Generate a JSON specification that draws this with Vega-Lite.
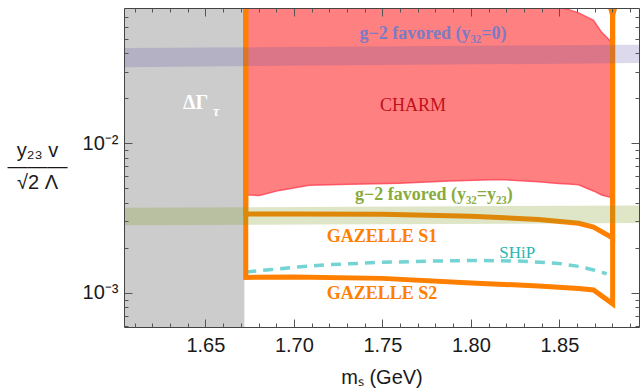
{
  "$schema": "https://vega.github.io/schema/vega-lite/v6.json",
  "width": 515,
  "height": 319,
  "autosize": {"type": "none"},
  "padding": {"left": 124, "top": 8, "right": 1, "bottom": 65},
  "background": "white",
  "config": {
    "view": {"stroke": null},
    "axis": {
      "grid": false, "zindex": 1, "domainColor": "#444", "tickColor": "#555",
      "labelFont": "Liberation Sans", "labelFontSize": 20, "labelColor": "#1a1a1a",
      "titleFont": "Liberation Sans", "titleFontSize": 20, "titleFontWeight": "normal", "titleColor": "#1a1a1a",
      "labelFlush": false, "labelOverlap": false
    }
  },
  "resolve": {"axis": {"x": "independent", "y": "independent"}},
  "datasets": {
    "gray": [{"x0": 1.604, "x1": 1.672}],
    "charm": [
      {"x": 1.6720, "lo": 0.00454, "hi": 0.12},
      {"x": 1.6748, "lo": 0.00450, "hi": 0.12},
      {"x": 1.6804, "lo": 0.00447, "hi": 0.12},
      {"x": 1.6917, "lo": 0.00483, "hi": 0.12},
      {"x": 1.7086, "lo": 0.00522, "hi": 0.12},
      {"x": 1.7312, "lo": 0.00530, "hi": 0.12},
      {"x": 1.7594, "lo": 0.00540, "hi": 0.12},
      {"x": 1.7876, "lo": 0.00559, "hi": 0.12},
      {"x": 1.8158, "lo": 0.00572, "hi": 0.12},
      {"x": 1.8383, "lo": 0.00552, "hi": 0.12},
      {"x": 1.8496, "lo": 0.00538, "hi": 0.081},
      {"x": 1.8553, "lo": 0.00532, "hi": 0.078},
      {"x": 1.8609, "lo": 0.00526, "hi": 0.0742},
      {"x": 1.8693, "lo": 0.00479, "hi": 0.0661},
      {"x": 1.8739, "lo": 0.00450, "hi": 0.0550},
      {"x": 1.8795, "lo": 0.00432, "hi": 0.0471}
    ],
    "purple": [
      {"x": 1.604, "lo": 0.0322, "hi": 0.04315},
      {"x": 1.895, "lo": 0.03425, "hi": 0.04548}
    ],
    "green": [
      {"x": 1.604, "lo": 0.00282, "hi": 0.0037},
      {"x": 1.895, "lo": 0.00292, "hi": 0.00383}
    ],
    "s1": [
      {"i": 0, "x": 1.6728, "y": 0.12},
      {"i": 1, "x": 1.6728, "y": 0.00336},
      {"i": 2, "x": 1.70, "y": 0.00336},
      {"i": 3, "x": 1.75, "y": 0.00334},
      {"i": 4, "x": 1.80, "y": 0.00324},
      {"i": 5, "x": 1.8383, "y": 0.00309},
      {"i": 6, "x": 1.8609, "y": 0.00291},
      {"i": 7, "x": 1.8693, "y": 0.00275},
      {"i": 8, "x": 1.8801, "y": 0.00232},
      {"i": 9, "x": 1.8801, "y": 0.0714},
      {"i": 10, "x": 1.8778, "y": 0.09}
    ],
    "s2": [
      {"i": 0, "x": 1.6728, "y": 0.12},
      {"i": 1, "x": 1.6728, "y": 0.001266},
      {"i": 2, "x": 1.70, "y": 0.001276},
      {"i": 3, "x": 1.75, "y": 0.001247},
      {"i": 4, "x": 1.80, "y": 0.001163},
      {"i": 5, "x": 1.8383, "y": 0.00111},
      {"i": 6, "x": 1.8609, "y": 0.001068},
      {"i": 7, "x": 1.8693, "y": 0.001044},
      {"i": 8, "x": 1.8801, "y": 0.000842},
      {"i": 9, "x": 1.8801, "y": 0.0714},
      {"i": 10, "x": 1.8824, "y": 0.09}
    ],
    "ship": [
      {"x": 1.6731, "y": 0.001377},
      {"x": 1.6861, "y": 0.001424},
      {"x": 1.7013, "y": 0.001483},
      {"x": 1.7199, "y": 0.001539},
      {"x": 1.7481, "y": 0.001594},
      {"x": 1.7763, "y": 0.001627},
      {"x": 1.8045, "y": 0.001645},
      {"x": 1.8271, "y": 0.001627},
      {"x": 1.8496, "y": 0.00157},
      {"x": 1.8609, "y": 0.0015},
      {"x": 1.8693, "y": 0.00142},
      {"x": 1.8767, "y": 0.00134}
    ],
    "labels": [
      {"key": "dg", "text": "ΔΓ", "x": 1.6445, "y": 0.01698},
      {"key": "tau", "text": "τ", "x": 1.656, "y": 0.01508},
      {"key": "g2a", "text": "g−2 favored (y₃₂=0)", "x": 1.7786, "y": 0.0493},
      {"key": "charm", "text": "CHARM", "x": 1.7673, "y": 0.0163},
      {"key": "g2b", "text": "g−2 favored (y₃₂=y₂₃)", "x": 1.7791, "y": 0.00414},
      {"key": "gz", "text": "GAZELLE S1", "x": 1.7498, "y": 0.00218},
      {"key": "gz", "text": "GAZELLE S2", "x": 1.7498, "y": 0.000902},
      {"key": "ship", "text": "SHiP", "x": 1.8262, "y": 0.0017}
    ]
  },
  "layer": [
    {
      "data": {"name": "gray"},
      "mark": {"type": "rect", "color": "#cccccc", "clip": true},
      "encoding": {
        "x": {"field": "x0", "type": "quantitative",
          "scale": {"domain": [1.604, 1.895], "nice": false, "zero": false},
          "axis": {"orient": "bottom", "zindex": 2, "values": [1.65, 1.7, 1.75, 1.8, 1.85], "format": ".2f",
            "tickSize": -8, "labelPadding": 16, "domain": true, "title": "mₛ (GeV)", "titlePadding": 12}},
        "x2": {"field": "x1"}
      }
    },
    {
      "data": {"name": "charm"},
      "mark": {"type": "area", "color": "#ff8080", "opacity": 1, "stroke": "#ff3d50", "strokeWidth": 1.5, "strokeOpacity": 0.8, "clip": true},
      "encoding": {
        "x": {"field": "x", "type": "quantitative",
          "scale": {"domain": [1.604, 1.895], "nice": false, "zero": false},
          "axis": {"orient": "bottom", "zindex": 2, "values": [1.61,1.62,1.63,1.64,1.66,1.67,1.68,1.69,1.71,1.72,1.73,1.74,1.76,1.77,1.78,1.79,1.81,1.82,1.83,1.84,1.86,1.87,1.88,1.89],
            "tickSize": -4, "labels": false, "domain": false, "title": null}},
        "y": {"field": "lo", "type": "quantitative",
          "scale": {"type": "log", "domain": [0.00059, 0.08], "nice": false},
          "axis": {"orient": "left", "zindex": 2, "values": [0.001, 0.01], "labelExpr": "datum.value < 0.005 ? '10⁻³' : '10⁻²'",
            "tickSize": -8, "labelPadding": 14, "domain": true,
            "title": ["y₂₃ v", "———", "√2 Λ"], "titleAngle": 0, "titleAlign": "center", "titleBaseline": "middle",
            "titleX": -87, "titleY": 142, "titleLineHeight": 16}},
        "y2": {"field": "hi"}
      }
    },
    {
      "data": {"name": "ship"},
      "mark": {"type": "line", "color": "#74d3d3", "strokeWidth": 3.5, "strokeDash": [10, 7], "clip": true},
      "encoding": {
        "x": {"field": "x", "type": "quantitative",
          "scale": {"domain": [1.604, 1.895], "nice": false, "zero": false},
          "axis": {"orient": "top", "zindex": 2, "values": [1.65, 1.7, 1.75, 1.8, 1.85], "tickSize": -8, "labels": false, "domain": true, "title": null}},
        "y": {"field": "y", "type": "quantitative",
          "scale": {"type": "log", "domain": [0.00059, 0.08], "nice": false},
          "axis": {"orient": "left", "zindex": 2, "values": [0.0006,0.0007,0.0008,0.0009,0.002,0.003,0.004,0.005,0.006,0.007,0.008,0.009,0.02,0.03,0.04,0.05,0.06,0.07],
            "tickSize": -4, "labels": false, "domain": false, "title": null}}
      }
    },
    {
      "data": {"name": "s1"},
      "mark": {"type": "line", "color": "#ff8000", "strokeWidth": 5, "strokeJoin": "miter", "clip": true},
      "encoding": {
        "x": {"field": "x", "type": "quantitative",
          "scale": {"domain": [1.604, 1.895], "nice": false, "zero": false},
          "axis": {"orient": "top", "zindex": 2, "values": [1.61,1.62,1.63,1.64,1.66,1.67,1.68,1.69,1.71,1.72,1.73,1.74,1.76,1.77,1.78,1.79,1.81,1.82,1.83,1.84,1.86,1.87,1.88,1.89],
            "tickSize": -4, "labels": false, "domain": false, "title": null}},
        "y": {"field": "y", "type": "quantitative",
          "scale": {"type": "log", "domain": [0.00059, 0.08], "nice": false},
          "axis": {"orient": "right", "zindex": 2, "values": [0.001, 0.01], "tickSize": -8, "labels": false, "domain": true, "title": null}},
        "order": {"field": "i"}
      }
    },
    {
      "data": {"name": "s2"},
      "mark": {"type": "line", "color": "#ff8000", "strokeWidth": 5, "strokeJoin": "miter", "clip": true},
      "encoding": {
        "x": {"field": "x", "type": "quantitative",
          "scale": {"domain": [1.604, 1.895], "nice": false, "zero": false}, "axis": null},
        "y": {"field": "y", "type": "quantitative",
          "scale": {"type": "log", "domain": [0.00059, 0.08], "nice": false},
          "axis": {"orient": "right", "zindex": 2, "values": [0.0006,0.0007,0.0008,0.0009,0.002,0.003,0.004,0.005,0.006,0.007,0.008,0.009,0.02,0.03,0.04,0.05,0.06,0.07],
            "tickSize": -4, "labels": false, "domain": false, "title": null}},
        "order": {"field": "i"}
      }
    },
    {
      "data": {"name": "purple"},
      "mark": {"type": "area", "color": "#5c53a2", "opacity": 0.22, "clip": true},
      "encoding": {
        "x": {"field": "x", "type": "quantitative",
          "scale": {"domain": [1.604, 1.895], "nice": false, "zero": false}, "axis": null},
        "y": {"field": "lo", "type": "quantitative",
          "scale": {"type": "log", "domain": [0.00059, 0.08], "nice": false}, "axis": null},
        "y2": {"field": "hi"}
      }
    },
    {
      "data": {"name": "green"},
      "mark": {"type": "area", "color": "#80a028", "opacity": 0.26, "clip": true},
      "encoding": {
        "x": {"field": "x", "type": "quantitative",
          "scale": {"domain": [1.604, 1.895], "nice": false, "zero": false}, "axis": null},
        "y": {"field": "lo", "type": "quantitative",
          "scale": {"type": "log", "domain": [0.00059, 0.08], "nice": false}, "axis": null},
        "y2": {"field": "hi"}
      }
    },
    {
      "data": {"name": "labels"},
      "transform": [{"filter": "datum.key == 'dg'"}],
      "mark": {"type": "text", "color": "white", "font": "Liberation Serif", "fontWeight": "bold", "fontSize": 20, "align": "center", "baseline": "alphabetic"},
      "encoding": {
        "x": {"field": "x", "type": "quantitative", "scale": {"domain": [1.604, 1.895], "nice": false, "zero": false}, "axis": null},
        "y": {"field": "y", "type": "quantitative", "scale": {"type": "log", "domain": [0.00059, 0.08], "nice": false}, "axis": null},
        "text": {"field": "text"}
      }
    },
    {
      "data": {"name": "labels"},
      "transform": [{"filter": "datum.key == 'tau'"}],
      "mark": {"type": "text", "color": "white", "font": "Liberation Serif", "fontWeight": "bold", "fontStyle": "italic", "fontSize": 14, "align": "center", "baseline": "alphabetic"},
      "encoding": {
        "x": {"field": "x", "type": "quantitative", "scale": {"domain": [1.604, 1.895], "nice": false, "zero": false}, "axis": null},
        "y": {"field": "y", "type": "quantitative", "scale": {"type": "log", "domain": [0.00059, 0.08], "nice": false}, "axis": null},
        "text": {"field": "text"}
      }
    },
    {
      "data": {"name": "labels"},
      "transform": [{"filter": "datum.key == 'g2a'"}],
      "mark": {"type": "text", "color": "#7b7bc6", "font": "Liberation Serif", "fontWeight": "bold", "fontSize": 18, "align": "center", "baseline": "alphabetic"},
      "encoding": {
        "x": {"field": "x", "type": "quantitative", "scale": {"domain": [1.604, 1.895], "nice": false, "zero": false}, "axis": null},
        "y": {"field": "y", "type": "quantitative", "scale": {"type": "log", "domain": [0.00059, 0.08], "nice": false}, "axis": null},
        "text": {"field": "text"}
      }
    },
    {
      "data": {"name": "labels"},
      "transform": [{"filter": "datum.key == 'charm'"}],
      "mark": {"type": "text", "color": "#c0101a", "font": "Liberation Serif", "fontSize": 18, "align": "center", "baseline": "alphabetic"},
      "encoding": {
        "x": {"field": "x", "type": "quantitative", "scale": {"domain": [1.604, 1.895], "nice": false, "zero": false}, "axis": null},
        "y": {"field": "y", "type": "quantitative", "scale": {"type": "log", "domain": [0.00059, 0.08], "nice": false}, "axis": null},
        "text": {"field": "text"}
      }
    },
    {
      "data": {"name": "labels"},
      "transform": [{"filter": "datum.key == 'g2b'"}],
      "mark": {"type": "text", "color": "#8aab3c", "font": "Liberation Serif", "fontWeight": "bold", "fontSize": 18, "align": "center", "baseline": "alphabetic"},
      "encoding": {
        "x": {"field": "x", "type": "quantitative", "scale": {"domain": [1.604, 1.895], "nice": false, "zero": false}, "axis": null},
        "y": {"field": "y", "type": "quantitative", "scale": {"type": "log", "domain": [0.00059, 0.08], "nice": false}, "axis": null},
        "text": {"field": "text"}
      }
    },
    {
      "data": {"name": "labels"},
      "transform": [{"filter": "datum.key == 'gz'"}],
      "mark": {"type": "text", "color": "#ff8000", "font": "Liberation Serif", "fontWeight": "bold", "fontSize": 18, "align": "center", "baseline": "alphabetic"},
      "encoding": {
        "x": {"field": "x", "type": "quantitative", "scale": {"domain": [1.604, 1.895], "nice": false, "zero": false}, "axis": null},
        "y": {"field": "y", "type": "quantitative", "scale": {"type": "log", "domain": [0.00059, 0.08], "nice": false}, "axis": null},
        "text": {"field": "text"}
      }
    },
    {
      "data": {"name": "labels"},
      "transform": [{"filter": "datum.key == 'ship'"}],
      "mark": {"type": "text", "color": "#2ab5b5", "font": "Liberation Serif", "fontSize": 17, "align": "center", "baseline": "alphabetic"},
      "encoding": {
        "x": {"field": "x", "type": "quantitative", "scale": {"domain": [1.604, 1.895], "nice": false, "zero": false}, "axis": null},
        "y": {"field": "y", "type": "quantitative", "scale": {"type": "log", "domain": [0.00059, 0.08], "nice": false}, "axis": null},
        "text": {"field": "text"}
      }
    }
  ]
}
